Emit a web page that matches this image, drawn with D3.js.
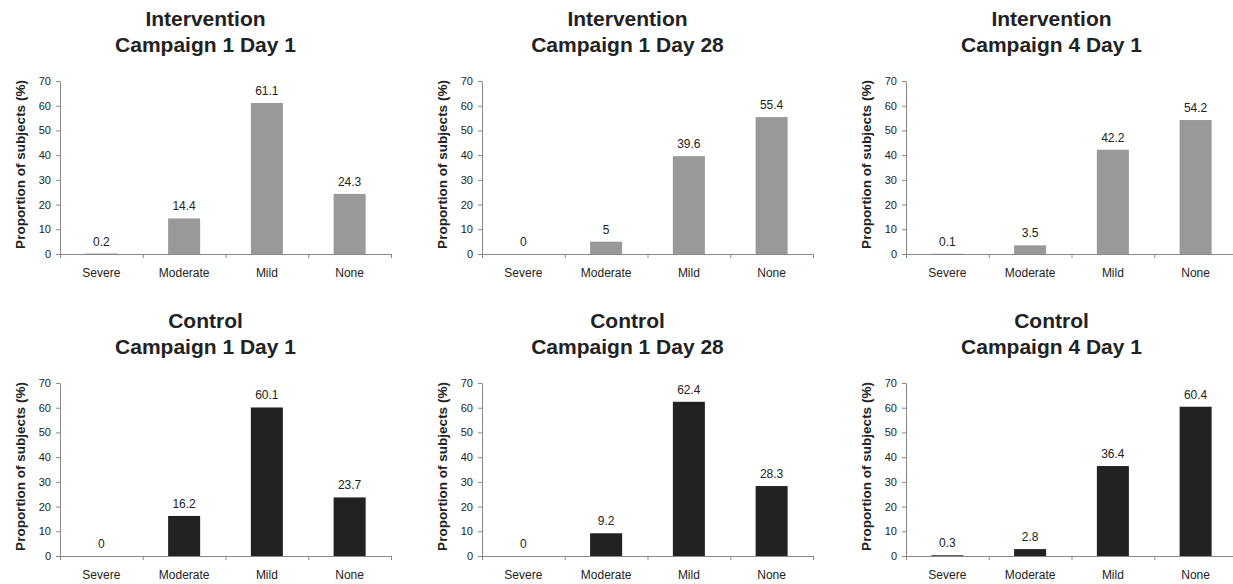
<!DOCTYPE html>
<html>
<head>
<meta charset="utf-8">
<script src="https://cdn.jsdelivr.net/npm/d3@7"></script>
<style>
  html, body { margin: 0; padding: 0; background: #fff; }
  svg { display: block; }
  text { font-family: "Liberation Sans", Arial, sans-serif; fill: #222; }
</style>
</head>
<body>
<svg id="chart" width="1233" height="584"></svg>
<script>
// ---- data ----
const categories = ["Severe", "Moderate", "Mild", "None"];
const yTicks = [0, 10, 20, 30, 40, 50, 60, 70];
const groupNames = ["Intervention", "Control"];
const timepoints = ["Campaign 1 Day 1", "Campaign 1 Day 28", "Campaign 4 Day 1"];

const interventionC1D1 = [0.2, 14.4, 61.1, 24.3];
const interventionC1D28 = [0, 5, 39.6, 55.4];
const interventionC4D1 = [0.1, 3.5, 42.2, 54.2];
const controlC1D1 = [0, 16.2, 60.1, 23.7];
const controlC1D28 = [0, 9.2, 62.4, 28.3];
const controlC4D1 = [0.3, 2.8, 36.4, 60.4];

const seriesByGroup = [
  [interventionC1D1, interventionC1D28, interventionC4D1],
  [controlC1D1, controlC1D28, controlC4D1]
];
const groupColors = ["#999999", "#222222"];

// ---- layout ----
const svg = d3.select("#chart");
const colX = [60, 482, 906];
const rowY = [81, 383];
const plotW = 331, plotH = 173;

const y = d3.scaleLinear().domain([0, 70]).range([plotH, 0]);
const x = d3.scaleBand().domain(categories).range([0, plotW]).paddingInner(0.613).paddingOuter(0.3065);
const xb = d3.scaleLinear().domain([0, categories.length]).range([0, plotW]);

groupNames.forEach((g, gi) => {
  timepoints.forEach((tp, ti) => {
    const vals = seriesByGroup[gi][ti];
    const data = categories.map((c, i) => ({ c, v: vals[i] }));
    const panel = svg.append("g").attr("transform", `translate(${colX[ti]},${rowY[gi]})`);

    // title
    const t = panel.append("text")
      .attr("x", plotW / 2 - 20)
      .attr("text-anchor", "middle")
      .style("font-weight", "bold")
      .style("font-size", "21px");
    t.append("tspan").attr("x", plotW / 2 - 20).attr("y", -55).text(g);
    t.append("tspan").attr("x", plotW / 2 - 20).attr("y", -29).text(tp);

    // y label
    panel.append("text")
      .attr("transform", `translate(-35,${plotH / 2 - 3}) rotate(-90)`)
      .attr("text-anchor", "middle")
      .style("font-weight", "bold")
      .style("font-size", "13.5px")
      .text("Proportion of subjects (%)");

    // bars
    panel.selectAll("rect.bar").data(data).enter().append("rect")
      .attr("class", "bar")
      .attr("x", d => x(d.c))
      .attr("width", x.bandwidth())
      .attr("y", d => y(d.v))
      .attr("height", d => plotH - y(d.v))
      .attr("fill", groupColors[gi]);

    // value labels
    panel.selectAll("text.val").data(data).enter().append("text")
      .attr("class", "val")
      .attr("x", d => x(d.c) + x.bandwidth() / 2)
      .attr("y", d => y(d.v) - 8)
      .attr("text-anchor", "middle")
      .style("font-size", "12px")
      .text(d => d.v);

    // y axis
    const ya = panel.append("g").call(
      d3.axisLeft(y).tickValues(yTicks).tickSize(4).tickSizeOuter(0).tickPadding(5)
    );
    ya.select(".domain").attr("stroke", "#888");
    ya.selectAll(".tick line").attr("stroke", "#888");
    ya.selectAll(".tick text").style("font-size", "11px").style("font-family", "Liberation Sans, Arial, sans-serif").attr("fill", "#222");

    // x axis boundary ticks
    const xa = panel.append("g").attr("transform", `translate(0,${plotH})`).call(
      d3.axisBottom(xb).tickValues(d3.range(categories.length + 1)).tickSize(4).tickSizeOuter(0).tickFormat("")
    );
    xa.select(".domain").attr("stroke", "#888");
    xa.selectAll(".tick line").attr("stroke", "#888");

    // category labels
    const xc = panel.append("g").attr("transform", `translate(0,${plotH})`).call(
      d3.axisBottom(x).tickSize(0).tickPadding(14)
    );
    xc.select(".domain").remove();
    xc.selectAll(".tick text").style("font-size", "12px").style("font-family", "Liberation Sans, Arial, sans-serif").attr("fill", "#222");
  });
});
</script>
</body>
</html>
